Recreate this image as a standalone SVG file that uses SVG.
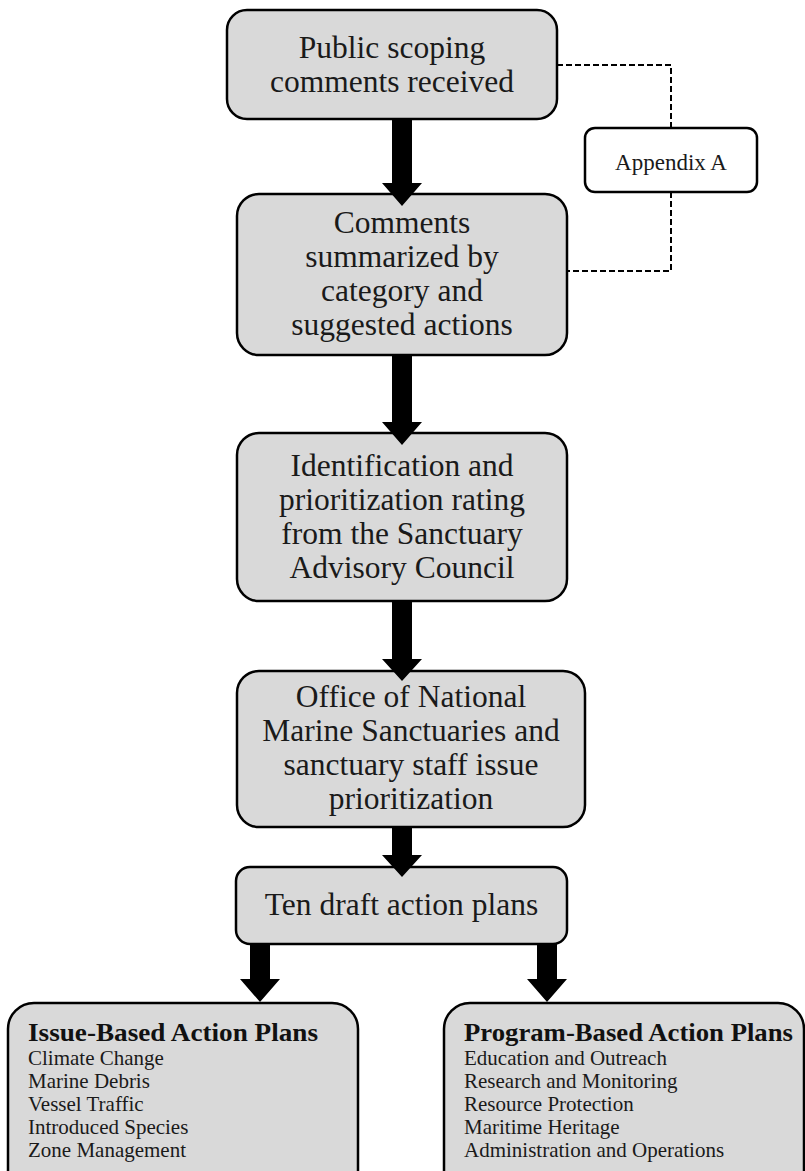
<svg xmlns="http://www.w3.org/2000/svg" width="805" height="1171" viewBox="0 0 805 1171">
<style>
.box{fill:#d9d9d9;stroke:#000;stroke-width:2.5}
.app{fill:#fff;stroke:#000;stroke-width:2.5}
.t{font-family:"Liberation Serif","Times New Roman",serif;font-size:31.5px;fill:#1a1a1a;text-anchor:middle}
.ta{font-family:"Liberation Serif","Times New Roman",serif;font-size:23px;fill:#1a1a1a;text-anchor:middle}
.h{font-family:"Liberation Serif","Times New Roman",serif;font-size:25px;font-weight:bold;fill:#111}
.l{font-family:"Liberation Serif","Times New Roman",serif;font-size:21px;fill:#1a1a1a}
.dash{fill:none;stroke:#000;stroke-width:2;stroke-dasharray:6 3}
.arr{fill:#000}
</style>
<g id="node-public">
<rect class="box" x="227" y="10" width="330" height="109" rx="20"/>
<text class="t" x="392" y="58">Public scoping</text>
<text class="t" x="392" y="92">comments received</text>
</g>
<g id="node-comments">
<rect class="box" x="237" y="194" width="330" height="161" rx="22"/>
<text class="t" x="402" y="233">Comments</text>
<text class="t" x="402" y="267">summarized by</text>
<text class="t" x="402" y="301">category and</text>
<text class="t" x="402" y="335">suggested actions</text>
</g>
<g id="node-identification">
<rect class="box" x="237" y="433" width="330" height="168" rx="22"/>
<text class="t" x="402" y="476">Identification and</text>
<text class="t" x="402" y="510">prioritization rating</text>
<text class="t" x="402" y="544">from the Sanctuary</text>
<text class="t" x="402" y="578">Advisory Council</text>
</g>
<g id="node-office">
<rect class="box" x="237" y="671" width="348" height="156" rx="22"/>
<text class="t" x="411" y="707">Office of National</text>
<text class="t" x="411" y="741">Marine Sanctuaries and</text>
<text class="t" x="411" y="775">sanctuary staff issue</text>
<text class="t" x="411" y="809">prioritization</text>
</g>
<g id="node-ten">
<rect class="box" x="236" y="867" width="331" height="77" rx="14"/>
<text class="t" x="401.5" y="915">Ten draft action plans</text>
</g>
<g id="node-appendix">
<rect class="app" x="585" y="128" width="172" height="64" rx="10"/>
<text class="ta" x="671" y="170">Appendix A</text>
</g>
<g id="node-issue">
<rect class="box" x="8" y="1003" width="350" height="200" rx="26"/>
<text class="h" x="28" y="1041" textLength="290" lengthAdjust="spacingAndGlyphs">Issue-Based Action Plans</text>
<text class="l" x="28" y="1065">Climate Change</text>
<text class="l" x="28" y="1088">Marine Debris</text>
<text class="l" x="28" y="1111">Vessel Traffic</text>
<text class="l" x="28" y="1134">Introduced Species</text>
<text class="l" x="28" y="1157">Zone Management</text>
</g>
<g id="node-program">
<rect class="box" x="444" y="1003" width="360" height="200" rx="26"/>
<text class="h" x="464" y="1041" textLength="329" lengthAdjust="spacingAndGlyphs">Program-Based Action Plans</text>
<text class="l" x="464" y="1065">Education and Outreach</text>
<text class="l" x="464" y="1088">Research and Monitoring</text>
<text class="l" x="464" y="1111">Resource Protection</text>
<text class="l" x="464" y="1134">Maritime Heritage</text>
<text class="l" x="464" y="1157">Administration and Operations</text>
</g>
<g id="connectors">
<polyline class="dash" points="557,65 671,65 671,128"/>
<polyline class="dash" points="671,192 671,271 567,271"/>
<polygon class="arr" points="392,119 412,119 412,183 422,183 402,206 382,183 392,183"/>
<polygon class="arr" points="392,355 412,355 412,422 422,422 402,445 382,422 392,422"/>
<polygon class="arr" points="392,601 412,601 412,659 422,659 402,681 382,659 392,659"/>
<polygon class="arr" points="392,827 412,827 412,855 422,855 402,877 382,855 392,855"/>
<polygon class="arr" points="250,944 270,944 270,979 280,979 260,1002 240,979 250,979"/>
<polygon class="arr" points="537,944 557,944 557,979 567,979 547,1002 527,979 537,979"/>
</g>
</svg>
